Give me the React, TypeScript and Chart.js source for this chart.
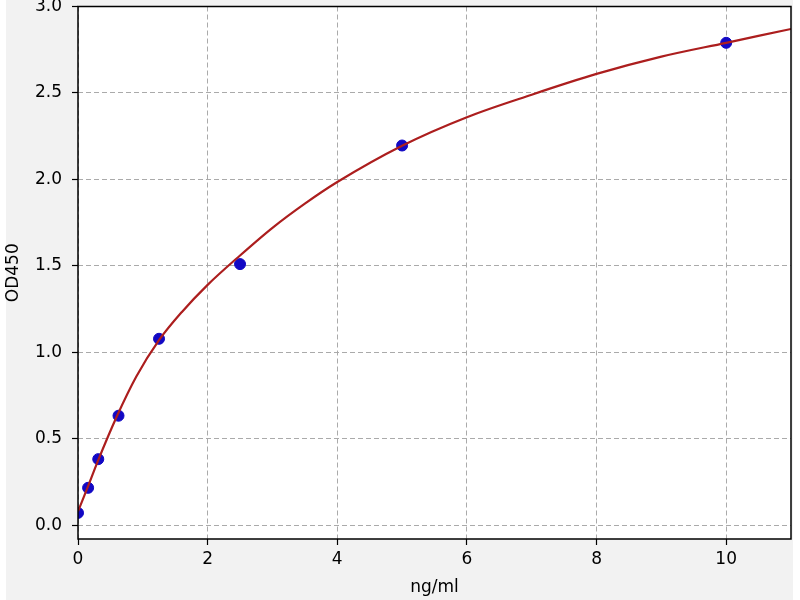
import React, { useEffect, useRef } from "react";
import Chart, { ChartConfiguration, Plugin } from "chart.js/auto";

// standard concentrations (ng/ml) and measured OD450
const standardConc = [0, 0.156, 0.3125, 0.625, 1.25, 2.5, 5, 10];
const standardOD = [0.071, 0.216, 0.382, 0.633, 1.078, 1.51, 2.196, 2.79];

// fitted curve
const curveConc = [0, 0.15, 0.3, 0.6, 0.9, 1.25, 1.6, 2, 2.5, 3, 3.5, 4, 5, 6, 7, 8, 9, 10, 11];
const curveOD = [0.08, 0.22, 0.365, 0.63, 0.86, 1.07, 1.232, 1.39, 1.56, 1.72, 1.86, 1.985, 2.195, 2.36, 2.49, 2.61, 2.71, 2.79, 2.87];

const xTicks = [0, 2, 4, 6, 8, 10];
const yTicks = [0, 0.5, 1, 1.5, 2, 2.5, 3];

const FONT = "DejaVu Sans";

const framePlugin: Plugin = {
  id: "frame",
  beforeDraw(chart) {
    const { ctx, width, height, chartArea: a } = chart;
    ctx.save();
    ctx.fillStyle = "#ffffff";
    ctx.fillRect(0, 0, width, height);
    ctx.fillStyle = "#f2f2f2";
    ctx.fillRect(6, 0, 787, height);
    ctx.fillStyle = "#ffffff";
    ctx.fillRect(a.left, a.top, a.right - a.left, a.bottom - a.top);
    ctx.restore();
  },
  afterDraw(chart) {
    const { ctx, chartArea: a } = chart;
    ctx.save();
    ctx.strokeStyle = "#000000";
    ctx.lineWidth = 1.5;
    ctx.strokeRect(a.left, a.top, a.right - a.left, a.bottom - a.top);
    ctx.restore();
  },
};

const StandardCurve: React.FC = () => {
  const chartRef = useRef<HTMLCanvasElement | null>(null);

  useEffect(() => {
    if (!chartRef.current) return;
    const ctx = chartRef.current.getContext("2d");
    if (!ctx) return;

    const grid = {
      color: "#aaaaaa",
      lineWidth: 1,
      drawTicks: true,
      tickLength: 6,
      tickColor: "#000000",
      tickWidth: 1.2,
      tickBorderDash: [],
    };
    // in chart.js 4 the grid-line dash lives under border.dash
    const border = { display: false, dash: [5, 3] };

    const config: ChartConfiguration = {
      type: "scatter",
      data: {
        datasets: [
          {
            type: "line",
            data: curveConc.map((x, i) => ({ x, y: curveOD[i] })),
            borderColor: "#ac1e1e",
            borderWidth: 2.2,
            pointRadius: 0,
            cubicInterpolationMode: "monotone",
            fill: false,
          },
          {
            type: "scatter",
            data: standardConc.map((x, i) => ({ x, y: standardOD[i] })),
            backgroundColor: "#1208c4",
            borderColor: "#1208c4",
            pointRadius: 5.5,
          },
        ],
      },
      options: {
        responsive: false,
        animation: false,
        devicePixelRatio: 1,
        layout: { padding: { left: 3, right: 9, top: 5, bottom: 2 } },
        plugins: {
          legend: { display: false },
          tooltip: { enabled: false },
        },
        scales: {
          x: {
            type: "linear",
            min: 0,
            max: 11,
            afterBuildTicks: (s: any) => {
              s.ticks = xTicks.map((v) => ({ value: v }));
            },
            afterFit: (s: any) => {
              s.height = 59;
              s.paddingLeft = 0;
              s.paddingRight = 0;
            },
            grid,
            border,
            ticks: {
              color: "#000000",
              padding: 4,
              font: { family: FONT, size: 17 },
              callback: (v: any) => String(v),
            },
            title: {
              display: true,
              text: "ng/ml",
              color: "#000000",
              padding: 0,
              font: { family: FONT, size: 17 },
            },
          },
          y: {
            type: "linear",
            min: -0.08,
            max: 3.0,
            afterBuildTicks: (s: any) => {
              s.ticks = yTicks.map((v) => ({ value: v }));
            },
            afterFit: (s: any) => {
              s.width = 75;
              s.paddingTop = 0;
              s.paddingBottom = 0;
            },
            grid,
            border,
            ticks: {
              color: "#000000",
              padding: 10,
              font: { family: FONT, size: 17 },
              callback: (v: any) => Number(v).toFixed(1),
            },
            title: {
              display: true,
              text: "OD450",
              color: "#000000",
              padding: 0,
              font: { family: FONT, size: 17 },
            },
          },
        },
      },
      plugins: [framePlugin],
    };

    const chart = new Chart(ctx, config);
    return () => {
      chart.destroy();
    };
  }, []);

  return (
    <canvas
      ref={chartRef}
      width={800}
      height={600}
      style={{ position: "fixed", left: 0, top: 0, display: "block" }}
    />
  );
};

export default function App() {
  return <StandardCurve />;
}
